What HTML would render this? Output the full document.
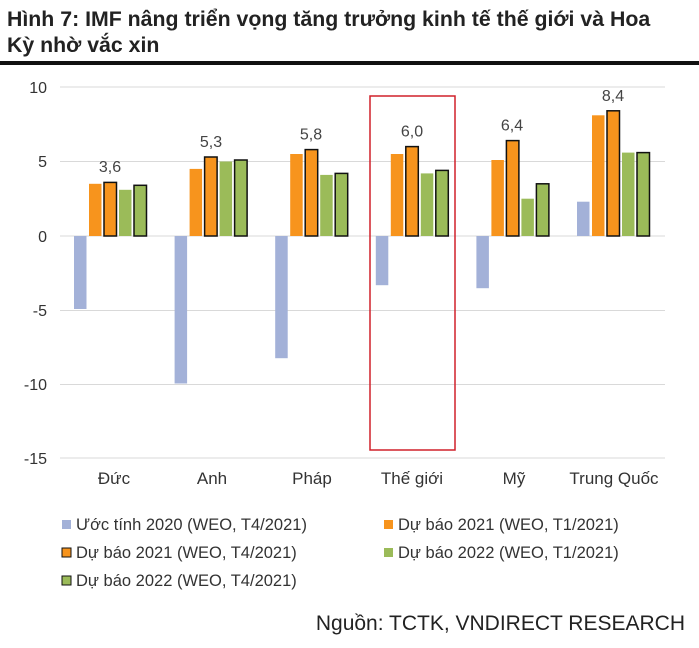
<!DOCTYPE html>
<html><head><meta charset="utf-8"><style>
body{margin:0;background:#fff;width:699px;height:643px;overflow:hidden;font-family:"Liberation Sans",Arial,sans-serif}
</style></head><body>
<svg width="699" height="643" xmlns="http://www.w3.org/2000/svg" font-family="Liberation Sans, Arial, sans-serif">
<text x="7" y="26" font-size="21.3" font-weight="bold" fill="#222">Hình 7: IMF nâng triển vọng tăng trưởng kinh tế thế giới và Hoa</text>
<text x="7" y="52" font-size="21.3" font-weight="bold" fill="#222">Kỳ nhờ vắc xin</text>
<rect x="0" y="61" width="699" height="4" fill="#111"/>
<g stroke="#d9d9d9" stroke-width="1">
<line x1="60" y1="87" x2="665" y2="87"/><line x1="60" y1="161.5" x2="665" y2="161.5"/>
<line x1="60" y1="236" x2="665" y2="236"/><line x1="60" y1="310.5" x2="665" y2="310.5"/>
<line x1="60" y1="384.5" x2="665" y2="384.5"/><line x1="60" y1="458" x2="665" y2="458"/>
</g>
<g font-size="16" fill="#333" text-anchor="end">
<text x="47" y="93">10</text><text x="47" y="167">5</text><text x="47" y="242">0</text>
<text x="47" y="316">-5</text><text x="47" y="390">-10</text><text x="47" y="464">-15</text>
</g>
<g fill="#a3b1d8">
<rect x="74" y="236" width="12.5" height="73"/>
<rect x="174.6" y="236" width="12.5" height="147.5"/>
<rect x="275.2" y="236" width="12.5" height="122.2"/>
<rect x="375.8" y="236" width="12.5" height="49.2"/>
<rect x="476.4" y="236" width="12.5" height="52.2"/>
<rect x="577" y="201.7" width="12.5" height="34.3"/>
</g>
<g fill="#f7941d">
<rect x="89" y="183.8" width="12.5" height="52.2"/>
<rect x="189.6" y="168.9" width="12.5" height="67.1"/>
<rect x="290.2" y="154" width="12.5" height="82"/>
<rect x="390.8" y="154" width="12.5" height="82"/>
<rect x="491.4" y="160" width="12.5" height="76"/>
<rect x="592" y="115.3" width="12.5" height="120.7"/>
</g>
<g fill="#f7941d" stroke="#111" stroke-width="1.5">
<rect x="104" y="182.4" width="12.5" height="53.6"/>
<rect x="204.6" y="157" width="12.5" height="79"/>
<rect x="305.2" y="149.6" width="12.5" height="86.4"/>
<rect x="405.8" y="146.6" width="12.5" height="89.4"/>
<rect x="506.4" y="140.6" width="12.5" height="95.4"/>
<rect x="607" y="110.8" width="12.5" height="125.2"/>
</g>
<g fill="#9bbb59">
<rect x="119" y="189.8" width="12.5" height="46.2"/>
<rect x="219.6" y="161.5" width="12.5" height="74.5"/>
<rect x="320.2" y="174.9" width="12.5" height="61.1"/>
<rect x="420.8" y="173.4" width="12.5" height="62.6"/>
<rect x="521.4" y="198.7" width="12.5" height="37.3"/>
<rect x="622" y="152.6" width="12.5" height="83.4"/>
</g>
<g fill="#9bbb59" stroke="#111" stroke-width="1.5">
<rect x="134" y="185.3" width="12.5" height="50.7"/>
<rect x="234.6" y="160" width="12.5" height="76"/>
<rect x="335.2" y="173.4" width="12.5" height="62.6"/>
<rect x="435.8" y="170.4" width="12.5" height="65.6"/>
<rect x="536.4" y="183.8" width="12.5" height="52.2"/>
<rect x="637" y="152.6" width="12.5" height="83.4"/>
</g>
<g font-size="16" fill="#444" text-anchor="middle">
<text x="110" y="172">3,6</text><text x="211" y="147">5,3</text><text x="311" y="139.6">5,8</text>
<text x="412" y="136.6">6,0</text><text x="512" y="130.6">6,4</text><text x="613" y="100.8">8,4</text>
</g>
<g font-size="17" fill="#333" text-anchor="middle">
<text x="114" y="484">Đức</text><text x="212" y="484">Anh</text><text x="312" y="484">Pháp</text>
<text x="412" y="484">Thế giới</text><text x="514" y="484">Mỹ</text><text x="614" y="484">Trung Quốc</text>
</g>
<rect x="370" y="96" width="85" height="354" fill="none" stroke="#d0202a" stroke-width="1.5"/>
<g font-size="16.5" fill="#333">
<rect x="62" y="520" width="9" height="9" fill="#a3b1d8"/><text x="76" y="530">Ước tính 2020 (WEO, T4/2021)</text>
<rect x="384" y="520" width="9" height="9" fill="#f7941d"/><text x="398" y="530">Dự báo 2021 (WEO, T1/2021)</text>
<rect x="62" y="548" width="9" height="9" fill="#f7941d" stroke="#111"/><text x="76" y="558">Dự báo 2021 (WEO, T4/2021)</text>
<rect x="384" y="548" width="9" height="9" fill="#9bbb59"/><text x="398" y="558">Dự báo 2022 (WEO, T1/2021)</text>
<rect x="62" y="576" width="9" height="9" fill="#9bbb59" stroke="#111"/><text x="76" y="586">Dự báo 2022 (WEO, T4/2021)</text>
</g>
<text x="685" y="630" font-size="21" fill="#222" text-anchor="end">Nguồn: TCTK, VNDIRECT RESEARCH</text>
</svg>
</body></html>
